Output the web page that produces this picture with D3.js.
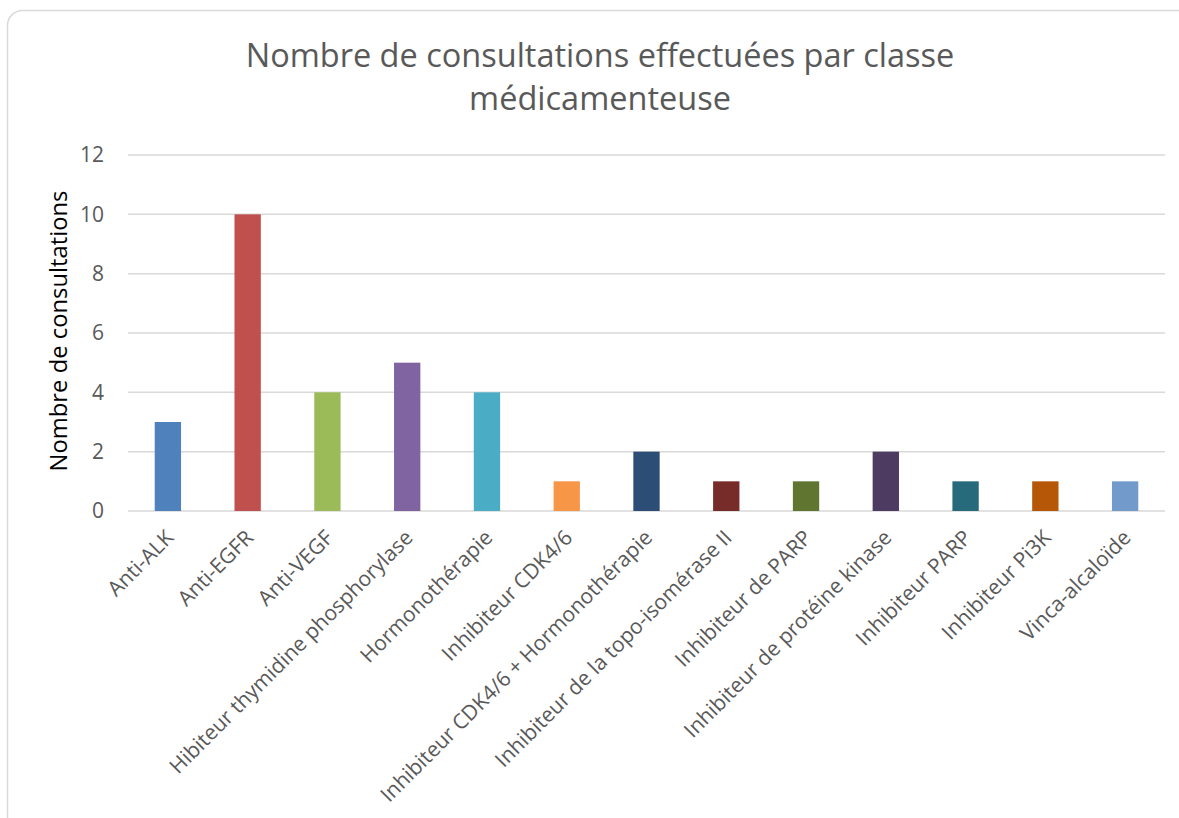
<!DOCTYPE html>
<meta charset="utf-8">
<style>
body { margin: 0; background: #fff; }
text { font-family: "Open Sans", sans-serif; }
</style>
<svg id="chart" width="1179" height="818"></svg>
<script src="https://d3js.org/d3.v7.min.js"></script>
<script>

var categories = ["Anti-ALK", "Anti-EGFR", "Anti-VEGF", "Hibiteur thymidine phosphorylase",
  "Hormonothérapie", "Inhibiteur CDK4/6", "Inhibiteur CDK4/6 + Hormonothérapie",
  "Inhibiteur de la topo-isomérase II", "Inhibiteur de PARP", "Inhibiteur de protéine kinase",
  "Inhibiteur PARP", "Inhibiteur Pi3K", "Vinca-alcaloïde"];
var values = [3, 10, 4, 5, 4, 1, 2, 1, 1, 2, 1, 1, 1];
var colors = ["#4f81bd", "#c0504d", "#9bbb59", "#8064a2", "#4bacc6", "#f79646",
  "#2c4d75", "#772c2a", "#5f7530", "#4d3b62", "#276a7c", "#b65708", "#729aca"];
var yTicks = [0, 2, 4, 6, 8, 10, 12];

var svg = d3.select("#chart");

// frame
svg.append("rect")
  .attr("x", 7.5).attr("y", 10.5)
  .attr("width", 1185).attr("height", 830)
  .attr("rx", 15)
  .attr("fill", "#fff")
  .attr("stroke", "#d9d9d9")
  .attr("stroke-width", 1.5);

var x = d3.scaleBand()
  .domain(categories)
  .range([128, 1165])
  .paddingInner(0.67)
  .paddingOuter(0.335);

var y = d3.scaleLinear()
  .domain([0, 12])
  .range([511, 155]);

// gridlines
svg.append("g")
  .selectAll("line")
  .data(yTicks)
  .join("line")
    .attr("x1", 128).attr("x2", 1165)
    .attr("y1", function(d){ return y(d); })
    .attr("y2", function(d){ return y(d); })
    .attr("stroke", "#d9d9d9")
    .attr("stroke-width", 1.5);

// y axis labels
var yAxis = svg.append("g")
  .attr("transform", "translate(128,0)")
  .call(d3.axisLeft(y).tickValues(yTicks).tickSize(0).tickPadding(24));
yAxis.select(".domain").remove();
yAxis.selectAll("text")
  .attr("fill", "#595959")
  .style("font-size", "21px");

// bars
svg.append("g")
  .selectAll("rect")
  .data(values)
  .join("rect")
    .attr("x", function(d, i){ return x(categories[i]); })
    .attr("y", function(d){ return y(d); })
    .attr("width", x.bandwidth())
    .attr("height", function(d){ return y(0) - y(d); })
    .attr("fill", function(d, i){ return colors[i]; });

// x labels
var xAxis = svg.append("g")
  .attr("transform", "translate(0,511)")
  .call(d3.axisBottom(x).tickSize(0).tickPadding(0));
xAxis.select(".domain").remove();
xAxis.selectAll("text")
  .attr("fill", "#595959")
  .style("font-size", "21px")
  .attr("text-anchor", "end")
  .attr("dy", null)
  .attr("y", 0)
  .attr("transform", "translate(7,28) rotate(-45)");

// axis title
svg.append("text")
  .attr("transform", "translate(67,331) rotate(-90)")
  .attr("text-anchor", "middle")
  .attr("fill", "#000")
  .style("font-size", "23.8px")
  .text("Nombre de consultations");

// chart title
var title = svg.append("text")
  .attr("text-anchor", "middle")
  .attr("fill", "#595959")
  .style("font-size", "32.5px");
title.append("tspan").attr("x", 600).attr("y", 67).text("Nombre de consultations effectuées par classe");
title.append("tspan").attr("x", 600).attr("y", 110).text("médicamenteuse");

</script>
